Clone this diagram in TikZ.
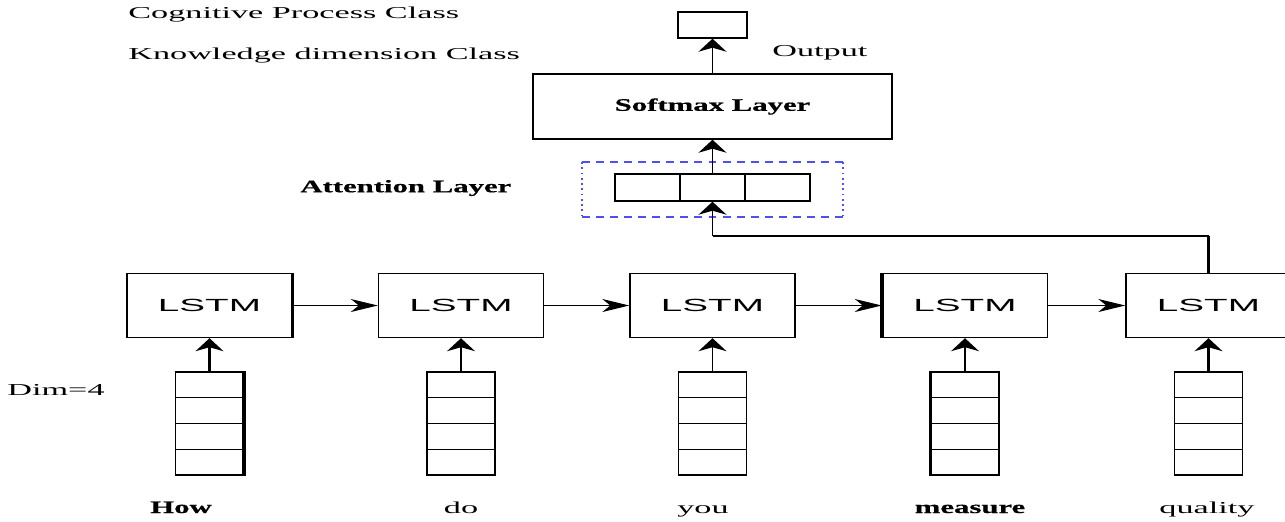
\documentclass[tikz,border=0pt]{standalone}
\usepackage{fontspec}
\setmainfont[FakeStretch=2.05]{Liberation Serif}
\newfontfamily\heavyfont[FakeStretch=1.75, FakeBold=0.6]{Liberation Serif}
\newfontfamily\lstmfont[FakeStretch=2.2]{Liberation Sans}
\usetikzlibrary{arrows.meta}
\definecolor{attblue}{RGB}{80,80,240}
\newcommand\boldword[1]{{\heavyfont\bfseries\fontsize{10}{12}\selectfont #1}}

\tikzset{
  cell/.style={draw, line width=0.8pt, inner sep=0pt},
  lstmbox/.style={cell, minimum width=3.3cm, minimum height=1.28cm, font=\lstmfont\fontsize{10}{12}\selectfont},
  vecbox/.style={cell, minimum width=1.36cm, minimum height=2.06cm},
  txt/.style={font=\fontsize{9.5}{11}\selectfont, inner sep=0pt},
  boldtxt/.style={font=\heavyfont\bfseries\fontsize{10}{12}\selectfont, inner sep=0pt},
  harr/.style={-{Stealth[length=5.4mm,width=2.6mm,inset=1.6mm]}, line width=0.8pt},
  varr/.style={-{Stealth[length=2.6mm,width=5.6mm,inset=0.8mm]}, line width=0.8pt},
}

\begin{document}
\begin{tikzpicture}[x=0.2mm, y=-0.2mm]
\useasboundingbox (0,0) rectangle (1285,521);

% labels on the left
\node[txt, anchor=west] (cogn) at (128,15) {Cognitive Process Class};
\node[txt, anchor=west] (know) at (128,56) {Knowledge dimension Class};
\node[boldtxt, anchor=west] (attlbl) at (300,188) {Attention Layer};
\node[txt, anchor=west] (dim) at (7,390) {Dim=4};

% output part
\node[cell, minimum width=1.38cm, minimum height=0.52cm] (out) at (712.5,25) {};
\node[txt, anchor=west] (outlbl) at (772,53) {Output};
\node[cell, boldtxt, minimum width=7.18cm, minimum height=1.3cm] (softmax) at (712.5,106.5) {Softmax Layer};
\foreach \i/\x in {1/647.5,2/712.5,3/777.5}
\node[cell, minimum width=1.3cm, minimum height=0.54cm] (att\i) at (\x,187.5) {};
\draw[attblue, line width=1pt, dash pattern=on 4.5pt off 3.5pt] (582,162) -- (843,162) (582,217) -- (843,217);
\draw[attblue, line width=1pt, dotted] (582,162) -- (582,217) (843,162) -- (843,217);
\draw[varr] (att2) -- (softmax);
\draw[varr] (softmax) -- (out);

% lstm chain with word vectors
\foreach \i/\x/\wx/\w in {1/209.5/181/\boldword{How}, 2/461/461/do, 3/712.5/703/you, 4/965/970/\boldword{measure}, 5/1208.5/1207/quality}{
\node[lstmbox] (lstm\i) at (\x,305.5) {LSTM};
\node[vecbox] (vec\i) at (\x,423.5) {};
\foreach \k in {1,2,3}
\draw[line width=0.8pt] (\x-34,372+25.75*\k) -- (\x+34,372+25.75*\k);
\draw[varr] (vec\i) -- (lstm\i);
\node[txt, anchor=base] (word\i) at (\wx,513) {\w};
}
\foreach \i/\j in {1/2,2/3,3/4,4/5}
\draw[harr] (lstm\i) -- (lstm\j);

% last state goes to attention
\coordinate (turn) at (712.5,236);
\draw[line width=0.8pt] (lstm5.north) |- (turn);
\draw[varr] (turn) -- (att2.south);

% heavy edges
\draw[line width=2pt] (lstm5.north) -- (lstm5.north |- turn);
\draw[line width=2pt] (lstm1.north east) -- (lstm1.south east);
\draw[line width=2pt] (lstm4.north west) -- (lstm4.south west);
\draw[line width=2pt] (vec1.north east) -- (vec1.south east);
\draw[line width=2pt] (vec4.north west) -- (vec4.south west);
\draw[line width=2pt] (vec1) -- ([yshift=-1mm]lstm1.south);
\draw[line width=2pt] (vec5) -- ([yshift=-1mm]lstm5.south);
\end{tikzpicture}
\end{document}
